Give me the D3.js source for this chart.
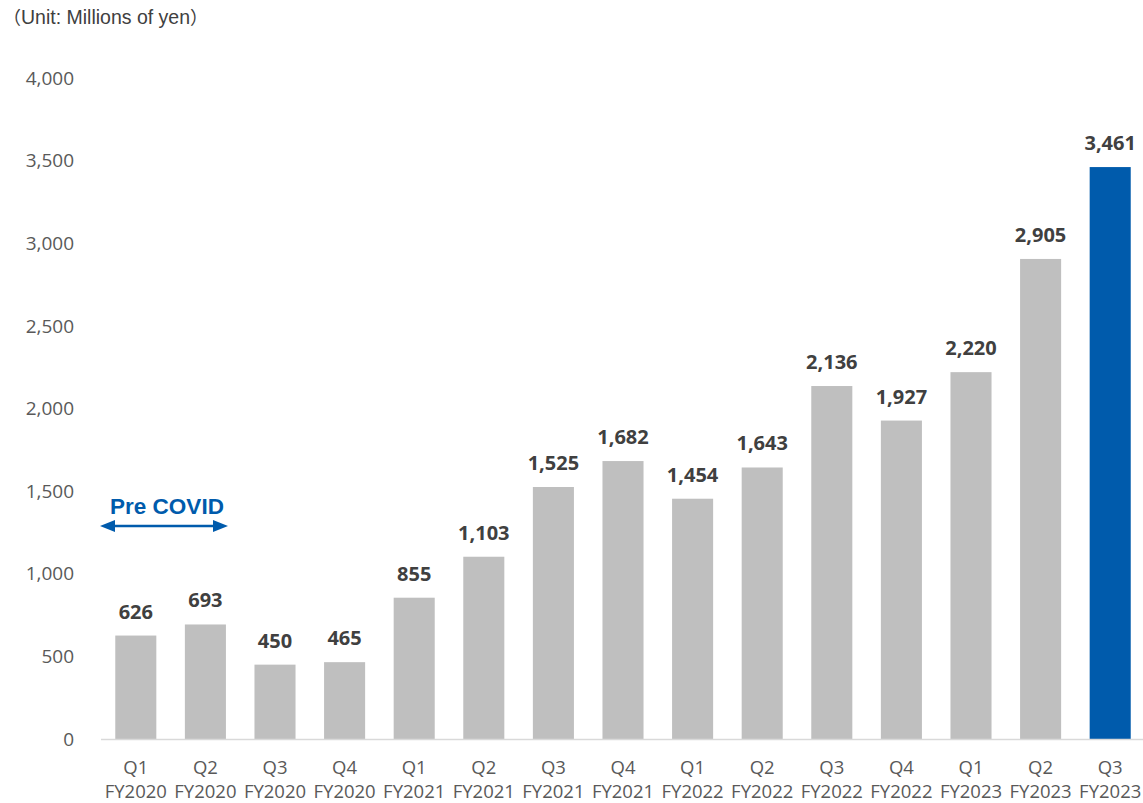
<!DOCTYPE html>
<html><head><meta charset="utf-8">
<script src="https://cdn.jsdelivr.net/npm/d3@7"></script>
<style>body{margin:0;background:#fff}svg{display:block}</style>
</head><body>
<svg id="c" width="1143" height="803"></svg>
<script>
const quarters = ["Q1","Q2","Q3","Q4","Q1","Q2","Q3","Q4","Q1","Q2","Q3","Q4","Q1","Q2","Q3"];
const years = ["FY2020","FY2020","FY2020","FY2020","FY2021","FY2021","FY2021","FY2021","FY2022","FY2022","FY2022","FY2022","FY2023","FY2023","FY2023"];
const values = [626,693,450,465,855,1103,1525,1682,1454,1643,2136,1927,2220,2905,3461];
const yTicks = [0,500,1000,1500,2000,2500,3000,3500,4000];

const svg = d3.select("#c");
const keys = values.map((d,i)=>i);
const x = d3.scaleBand().domain(keys).range([101,1145]).paddingInner(0.41).paddingOuter(0.205);
const y = d3.scaleLinear().domain([0,4000]).range([739,78]);

const t = svg.append("text").attr("x",3).attr("y",24).attr("font-family","Liberation Sans, Arial, sans-serif")
  .attr("font-size",19.5).attr("fill","#404040");
t.append("tspan").attr("font-family","'Noto Sans CJK JP', sans-serif").attr("font-size",18).text("（");
t.append("tspan").text("Unit: Millions of yen");
t.append("tspan").attr("font-family","'Noto Sans CJK JP', sans-serif").attr("font-size",18).text("）");

// y axis labels
svg.append("g").selectAll("text").data(yTicks).join("text")
  .attr("x",74).attr("y",d=>y(d)).attr("dy","0.35em").attr("text-anchor","end")
  .attr("font-family","Open Sans, sans-serif").attr("font-size",19).attr("fill","#595959")
  .text(d=>d3.format(",")(d));

// bars
svg.append("g").selectAll("rect").data(values).join("rect")
  .attr("x",(d,i)=>x(i)).attr("width",x.bandwidth())
  .attr("y",d=>y(d)).attr("height",d=>y(0)-y(d))
  .attr("fill",(d,i)=>i===values.length-1?"#005BAC":"#BFBFBF");

// baseline
svg.append("line").attr("x1",101).attr("x2",1143).attr("y1",y(0)+0.5).attr("y2",y(0)+0.5)
  .attr("stroke","#D9D9D9").attr("stroke-width",1.5);

// value labels
svg.append("g").selectAll("text").data(values).join("text")
  .attr("x",(d,i)=>x(i)+x.bandwidth()/2).attr("y",d=>y(d)-17)
  .attr("text-anchor","middle").attr("font-family","Open Sans, sans-serif")
  .attr("font-weight","bold").attr("font-size",20).attr("fill","#404040")
  .text(d=>d3.format(",")(d));

// x labels
const xl = svg.append("g").attr("font-family","Open Sans, sans-serif").attr("font-size",18.5).attr("fill","#595959").attr("text-anchor","middle");
xl.selectAll("text.q").data(quarters).join("text").attr("class","q")
  .attr("x",(d,i)=>x(i)+x.bandwidth()/2).attr("y",774).text(d=>d);
xl.selectAll("text.fy").data(years).join("text").attr("class","fy")
  .attr("x",(d,i)=>x(i)+x.bandwidth()/2).attr("y",798).text(d=>d);

// Pre COVID annotation
const blue = "#005BAC";
const ax1 = 100, ax2 = 228, ay = 526;
svg.append("text").attr("x",(ax1+ax2)/2+3).attr("y",514).attr("text-anchor","middle")
  .attr("font-family","Liberation Sans, Arial, sans-serif").attr("font-weight","bold")
  .attr("font-size",22.5).attr("fill",blue).text("Pre COVID");
svg.append("line").attr("x1",ax1+10).attr("x2",ax2-10).attr("y1",ay).attr("y2",ay)
  .attr("stroke",blue).attr("stroke-width",2.5);
svg.append("path").attr("d",`M${ax1},${ay} L${ax1+15},${ay-6} L${ax1+15},${ay+6} Z`).attr("fill",blue);
svg.append("path").attr("d",`M${ax2},${ay} L${ax2-15},${ay-6} L${ax2-15},${ay+6} Z`).attr("fill",blue);
</script>
</body></html>
